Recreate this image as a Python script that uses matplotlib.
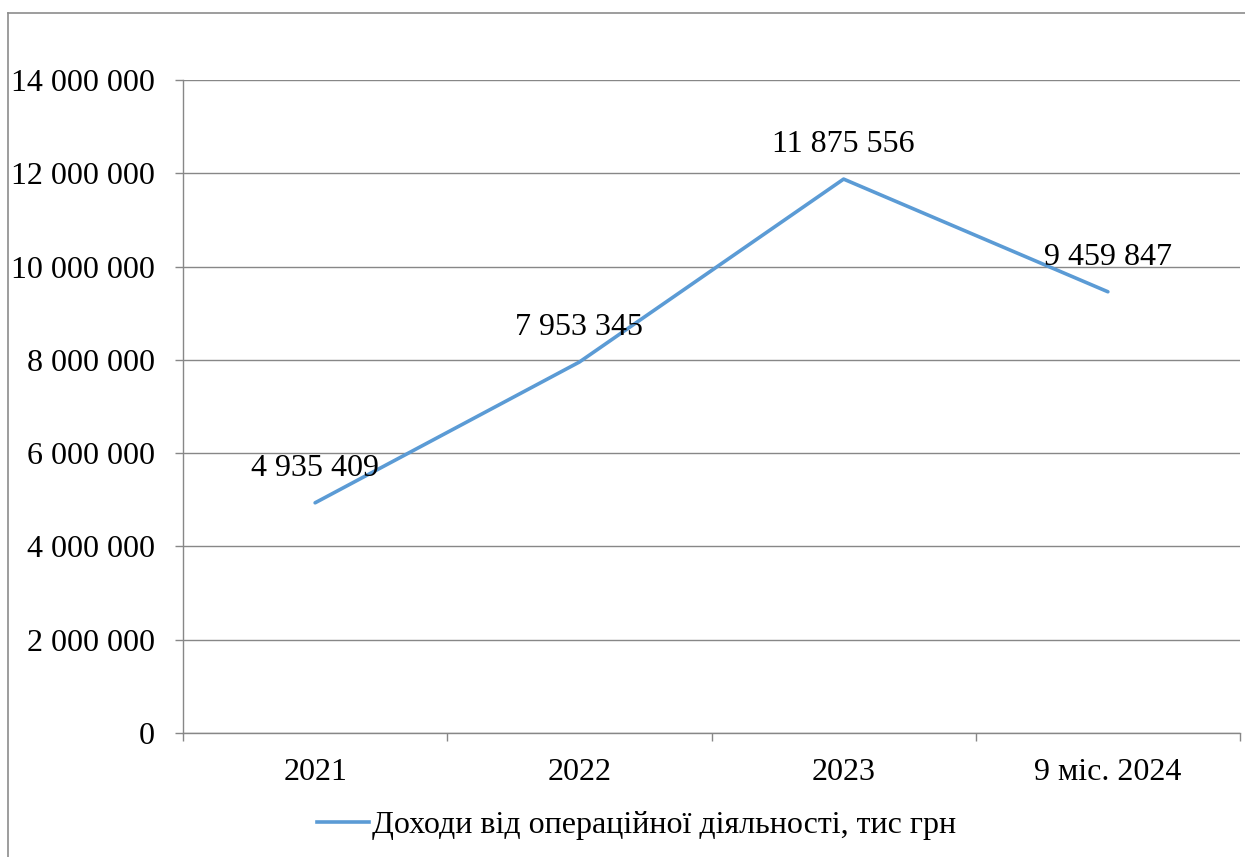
import matplotlib.pyplot as plt
from matplotlib.ticker import FuncFormatter, FixedLocator
from matplotlib.lines import Line2D

plt.rcParams['font.family'] = ['Liberation Serif', 'DejaVu Serif']

# Operating income by period, thousand UAH
periods = ['2021', '2022', '2023', '9 міс. 2024']
income = [4935409, 7953345, 11875556, 9459847]
series_name = 'Доходи від операційної діяльності, тис грн'

W, H = 1245, 857
fig = plt.figure(figsize=(W / 100, H / 100), dpi=100)

# plot area in pixel coordinates
left, right, top, bottom = 183, 1240, 80, 733
ax = fig.add_axes([left / W, 1 - bottom / H, (right - left) / W, (bottom - top) / H])

grid_c = '#878787'
blue = '#5B9BD5'
fs = 23

x = list(range(len(periods)))
ax.plot(x, income, color=blue, linewidth=2.6, solid_capstyle='round', zorder=3)


def space_thousands(v, pos=None):
    return f'{int(round(v)):,}'.replace(',', ' ')


for xi, v in zip(x, income):
    ax.annotate(space_thousands(v), (xi, v), xytext=(0, 25), textcoords='offset points',
                ha='center', va='center', fontsize=fs, zorder=4)

ax.set_xlim(-0.5, len(periods) - 0.5)
ax.set_ylim(0, 14000000)
ax.set_yticks(range(0, 14000001, 2000000))
ax.yaxis.set_major_formatter(FuncFormatter(space_thousands))
ax.grid(axis='y', color=grid_c, linewidth=1.0)
ax.set_axisbelow(True)

# category labels centred, tick marks on category boundaries
ax.set_xticks(x)
ax.set_xticklabels(periods)
ax.xaxis.set_minor_locator(FixedLocator([i - 0.5 for i in range(len(periods) + 1)]))
ax.tick_params(axis='x', which='major', length=0, pad=18, labelsize=fs)
ax.tick_params(axis='x', which='minor', length=6, width=1.0, color=grid_c, direction='out')
ax.tick_params(axis='y', length=6, width=1.0, color=grid_c, pad=14, labelsize=fs)

for s in ['top', 'right']:
    ax.spines[s].set_visible(False)
for s in ['left', 'bottom']:
    ax.spines[s].set_color(grid_c)
    ax.spines[s].set_linewidth(1.0)

# outer chart border (top and left edges are visible)
fig.add_artist(Line2D([8 / W, 8 / W], [0, 1 - 13 / H], transform=fig.transFigure,
                      color='#8c8c8c', linewidth=1.2))
fig.add_artist(Line2D([8 / W, 1], [1 - 13 / H, 1 - 13 / H], transform=fig.transFigure,
                      color='#8c8c8c', linewidth=1.2))

handle = Line2D([], [], color=blue, linewidth=2.6)
fig.legend([handle], [series_name], loc='center', bbox_to_anchor=(637 / W, 1 - 825 / H),
           frameon=False, fontsize=fs, handlelength=1.6, handletextpad=0.12,
           borderpad=0, borderaxespad=0)

fig.savefig('out.png', dpi=100)
